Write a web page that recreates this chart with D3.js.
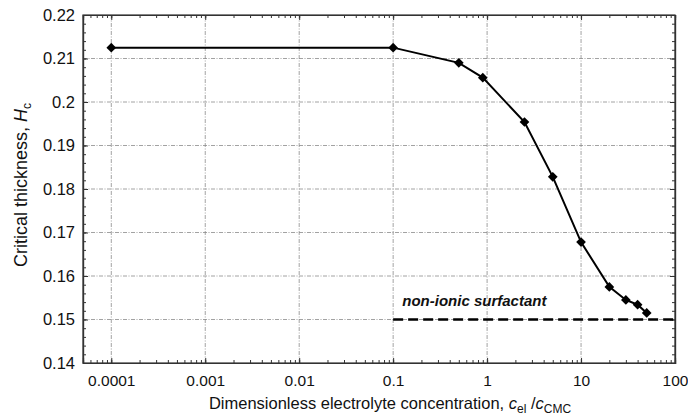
<!DOCTYPE html>
<html>
<head>
<meta charset="utf-8">
<script src="https://cdn.jsdelivr.net/npm/d3@7"></script>
<style>
  body { margin: 0; background: #fff; }
  text { font-family: "Liberation Sans", Arial, sans-serif; fill: #111; }
</style>
</head>
<body>
<div id="chart"></div>
<script>
// Data
const concentration = [0.0001, 0.1, 0.5, 0.9, 2.5, 5, 10, 20, 30, 40, 50];
const thickness = [0.2125, 0.2125, 0.2090, 0.2056, 0.1954, 0.1828, 0.1678, 0.1575, 0.1545, 0.1534, 0.1515];
const nonIonicLevel = 0.15;
const nonIonicFrom = 0.1;
const xTicks = [0.0001, 0.001, 0.01, 0.1, 1, 10, 100];
const xTickLabels = ["0.0001", "0.001", "0.01", "0.1", "1", "10", "100"];
const yTicks = [0.14, 0.15, 0.16, 0.17, 0.18, 0.19, 0.2, 0.21, 0.22];

const W = 688, H = 419;
const margin = { top: 15, right: 13, bottom: 56, left: 83 },
      width = W - margin.left - margin.right,
      height = H - margin.top - margin.bottom;

const svg = d3.select("#chart").append("svg")
    .attr("width", W).attr("height", H)
  .append("g")
    .attr("transform", `translate(${margin.left},${margin.top})`);

const x = d3.scaleLog().domain([5e-5, 100]).range([0, width]);
const y = d3.scaleLinear().domain([0.14, 0.22]).range([height, 0]);

// grid lines (dash-dot, grey)
svg.append("g").selectAll("line")
  .data(xTicks.slice(0, -1))
  .join("line")
    .attr("x1", d => x(d)).attr("x2", d => x(d))
    .attr("y1", 0).attr("y2", height)
    .attr("stroke", "#8a8a8a").attr("stroke-width", 0.8)
    .attr("stroke-dasharray", "4,1.5,1,1.5");
svg.append("g").selectAll("line")
  .data(yTicks.slice(1, -1))
  .join("line")
    .attr("x1", 0).attr("x2", width)
    .attr("y1", d => y(d)).attr("y2", d => y(d))
    .attr("stroke", "#8a8a8a").attr("stroke-width", 0.8)
    .attr("stroke-dasharray", "4,1.5,1,1.5");

// minor ticks
const xMinor = [];
for (let e = -5; e < 2; e++) {
  for (let k = 1; k < 10; k++) {
    const v = k * Math.pow(10, e);
    if (v >= 5e-5 && v <= 100) xMinor.push(v);
  }
}
const yMinor = d3.range(0.14, 0.2201, 0.002);

// axes with inward ticks
const tickLen = 5;
svg.append("g").attr("transform", `translate(0,${height})`)
  .call(d3.axisBottom(x).tickValues(xMinor).tickSize(-3).tickFormat(""));
svg.append("g")
  .call(d3.axisTop(x).tickValues(xMinor).tickSize(-3).tickFormat(""));
svg.append("g").attr("transform", `translate(0,${height})`)
  .call(d3.axisBottom(x).tickValues(xTicks).tickSize(-tickLen)
    .tickFormat((d, i) => xTickLabels[i]).tickPadding(12))
  .call(g => g.selectAll("text").attr("font-size", 15.5));
svg.append("g")
  .call(d3.axisTop(x).tickValues(xTicks).tickSize(-tickLen).tickFormat(""));

svg.append("g")
  .call(d3.axisLeft(y).tickValues(yMinor).tickSize(-3).tickFormat(""));
svg.append("g").attr("transform", `translate(${width},0)`)
  .call(d3.axisRight(y).tickValues(yMinor).tickSize(-3).tickFormat(""));
svg.append("g")
  .call(d3.axisLeft(y).tickValues(yTicks).tickSize(-tickLen)
    .tickFormat(d3.format("~g")).tickPadding(8))
  .call(g => g.selectAll("text").attr("font-size", 16.5));
svg.append("g").attr("transform", `translate(${width},0)`)
  .call(d3.axisRight(y).tickValues(yTicks).tickSize(-tickLen).tickFormat(""));

svg.selectAll(".domain").attr("stroke", "#333").attr("stroke-width", 1.2);
svg.selectAll(".tick line").attr("stroke", "#333");

// frame
svg.append("rect").attr("width", width).attr("height", height)
  .attr("fill", "none").attr("stroke", "#333").attr("stroke-width", 1.2);

// non-ionic reference line
svg.append("line")
  .attr("x1", x(nonIonicFrom)).attr("x2", x(100))
  .attr("y1", y(nonIonicLevel)).attr("y2", y(nonIonicLevel))
  .attr("stroke", "#000").attr("stroke-width", 2.6)
  .attr("stroke-dasharray", "10,5");
svg.append("text")
  .attr("x", x(0.125)).attr("y", y(nonIonicLevel) - 14)
  .attr("font-size", 15).attr("font-weight", "bold").attr("font-style", "italic")
  .text("non-ionic surfactant");

// data line
const pts = concentration.map((c, i) => [c, thickness[i]]);
svg.append("path")
  .datum(pts)
  .attr("fill", "none").attr("stroke", "#000").attr("stroke-width", 2)
  .attr("d", d3.line().x(d => x(d[0])).y(d => y(d[1])));
svg.append("g").selectAll("path")
  .data(pts)
  .join("path")
    .attr("transform", d => `translate(${x(d[0])},${y(d[1])})`)
    .attr("d", d3.symbol(d3.symbolDiamond2, 60))
    .attr("fill", "#000");

// axis titles
const xt = svg.append("text")
  .attr("x", 307).attr("y", height + 46)
  .attr("text-anchor", "middle").attr("font-size", 16.5);
xt.append("tspan").text("Dimensionless electrolyte concentration, ");
xt.append("tspan").attr("font-style", "italic").text("c");
xt.append("tspan").attr("font-size", 12).attr("dy", 4).text("el");
xt.append("tspan").attr("dy", -4).text(" /");
xt.append("tspan").attr("font-style", "italic").text("c");
xt.append("tspan").attr("font-size", 12).attr("dy", 4).text("CMC");

const yt = svg.append("text")
  .attr("transform", `translate(${-56},${185 - margin.top}) rotate(-90)`)
  .attr("text-anchor", "middle").attr("font-size", 18);
yt.append("tspan").text("Critical thickness, ");
yt.append("tspan").attr("font-style", "italic").text("H");
yt.append("tspan").attr("font-size", 12).attr("dy", 4).text("c");
</script>
</body>
</html>
